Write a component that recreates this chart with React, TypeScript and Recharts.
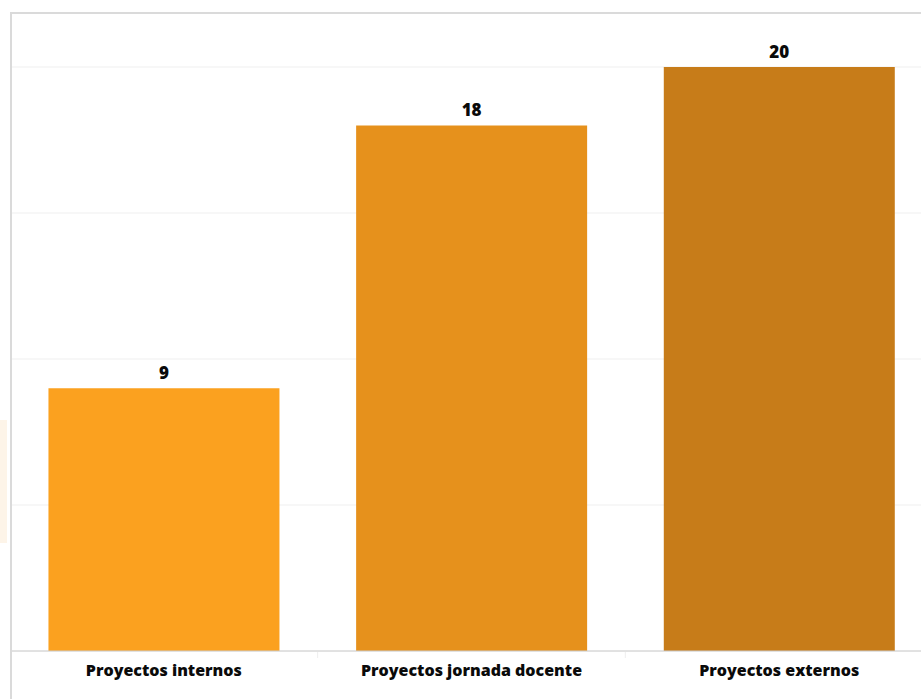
import React from 'react';
import { BarChart, Bar, XAxis, YAxis, CartesianGrid, Cell, LabelList } from 'recharts';

const categories = ['Proyectos internos', 'Proyectos jornada docente', 'Proyectos externos'];
const values = [9, 18, 20];
const barColors = ['#FBA11F', '#E6911C', '#C77C19'];
const yTicks = [0, 5, 10, 15, 20];

const data = categories.map((name, i) => ({ name, value: values[i] }));

const CHART_W = 940;
const CHART_H = 699;
const MARGIN = { top: 67, right: 7, bottom: 0, left: 10 };
const BAND = (CHART_W - MARGIN.left - MARGIN.right) / categories.length;
const FONT = '"Open Sans", sans-serif';

function Tick(props: any) {
  const { x, y, payload, index } = props;
  return (
    <g>
      {index < categories.length - 1 && (
        <line x1={x + BAND / 2} x2={x + BAND / 2} y1={y + 1} y2={y + 7} stroke="#eeeeee" />
      )}
      <text x={x} y={y + 25} textAnchor="middle" fontFamily={FONT} fontWeight={800} fontSize={16} fill="#0a0a0a">
        {payload.value}
      </text>
    </g>
  );
}

export default function App() {
  return (
    <div style={{ position: 'fixed', left: 0, top: 0, width: 921, height: 699, overflow: 'hidden', background: '#fff' }}>
      <div style={{ position: 'absolute', left: 0, top: 420, width: 7, height: 123, background: '#fdf4e8' }} />
      <div style={{ position: 'absolute', left: 0, top: 0 }}>
        <BarChart width={CHART_W} height={CHART_H} data={data} margin={MARGIN} barCategoryGap="12.5%">
          <CartesianGrid horizontal vertical={false} stroke="#efefef" />
          <YAxis hide domain={[0, 20]} ticks={yTicks} />
          <XAxis
            dataKey="name"
            height={48}
            axisLine={{ stroke: '#cccccc' }}
            tickLine={false}
            tickSize={0}
            tickMargin={0}
            interval={0}
            tick={<Tick />}
          />
          <Bar dataKey="value" isAnimationActive={false}>
            {data.map((d, i) => (
              <Cell key={d.name} fill={barColors[i]} />
            ))}
            <LabelList
              dataKey="value"
              position="top"
              offset={9}
              style={{ fontFamily: FONT, fontWeight: 800, fontSize: 17, fill: '#0a0a0a' }}
            />
          </Bar>
        </BarChart>
      </div>
      <div
        style={{
          position: 'absolute',
          left: 10,
          top: 12,
          right: 0,
          bottom: 0,
          borderLeft: '2px solid #dadada',
          borderTop: '2px solid #dadada',
          pointerEvents: 'none',
        }}
      />
    </div>
  );
}
